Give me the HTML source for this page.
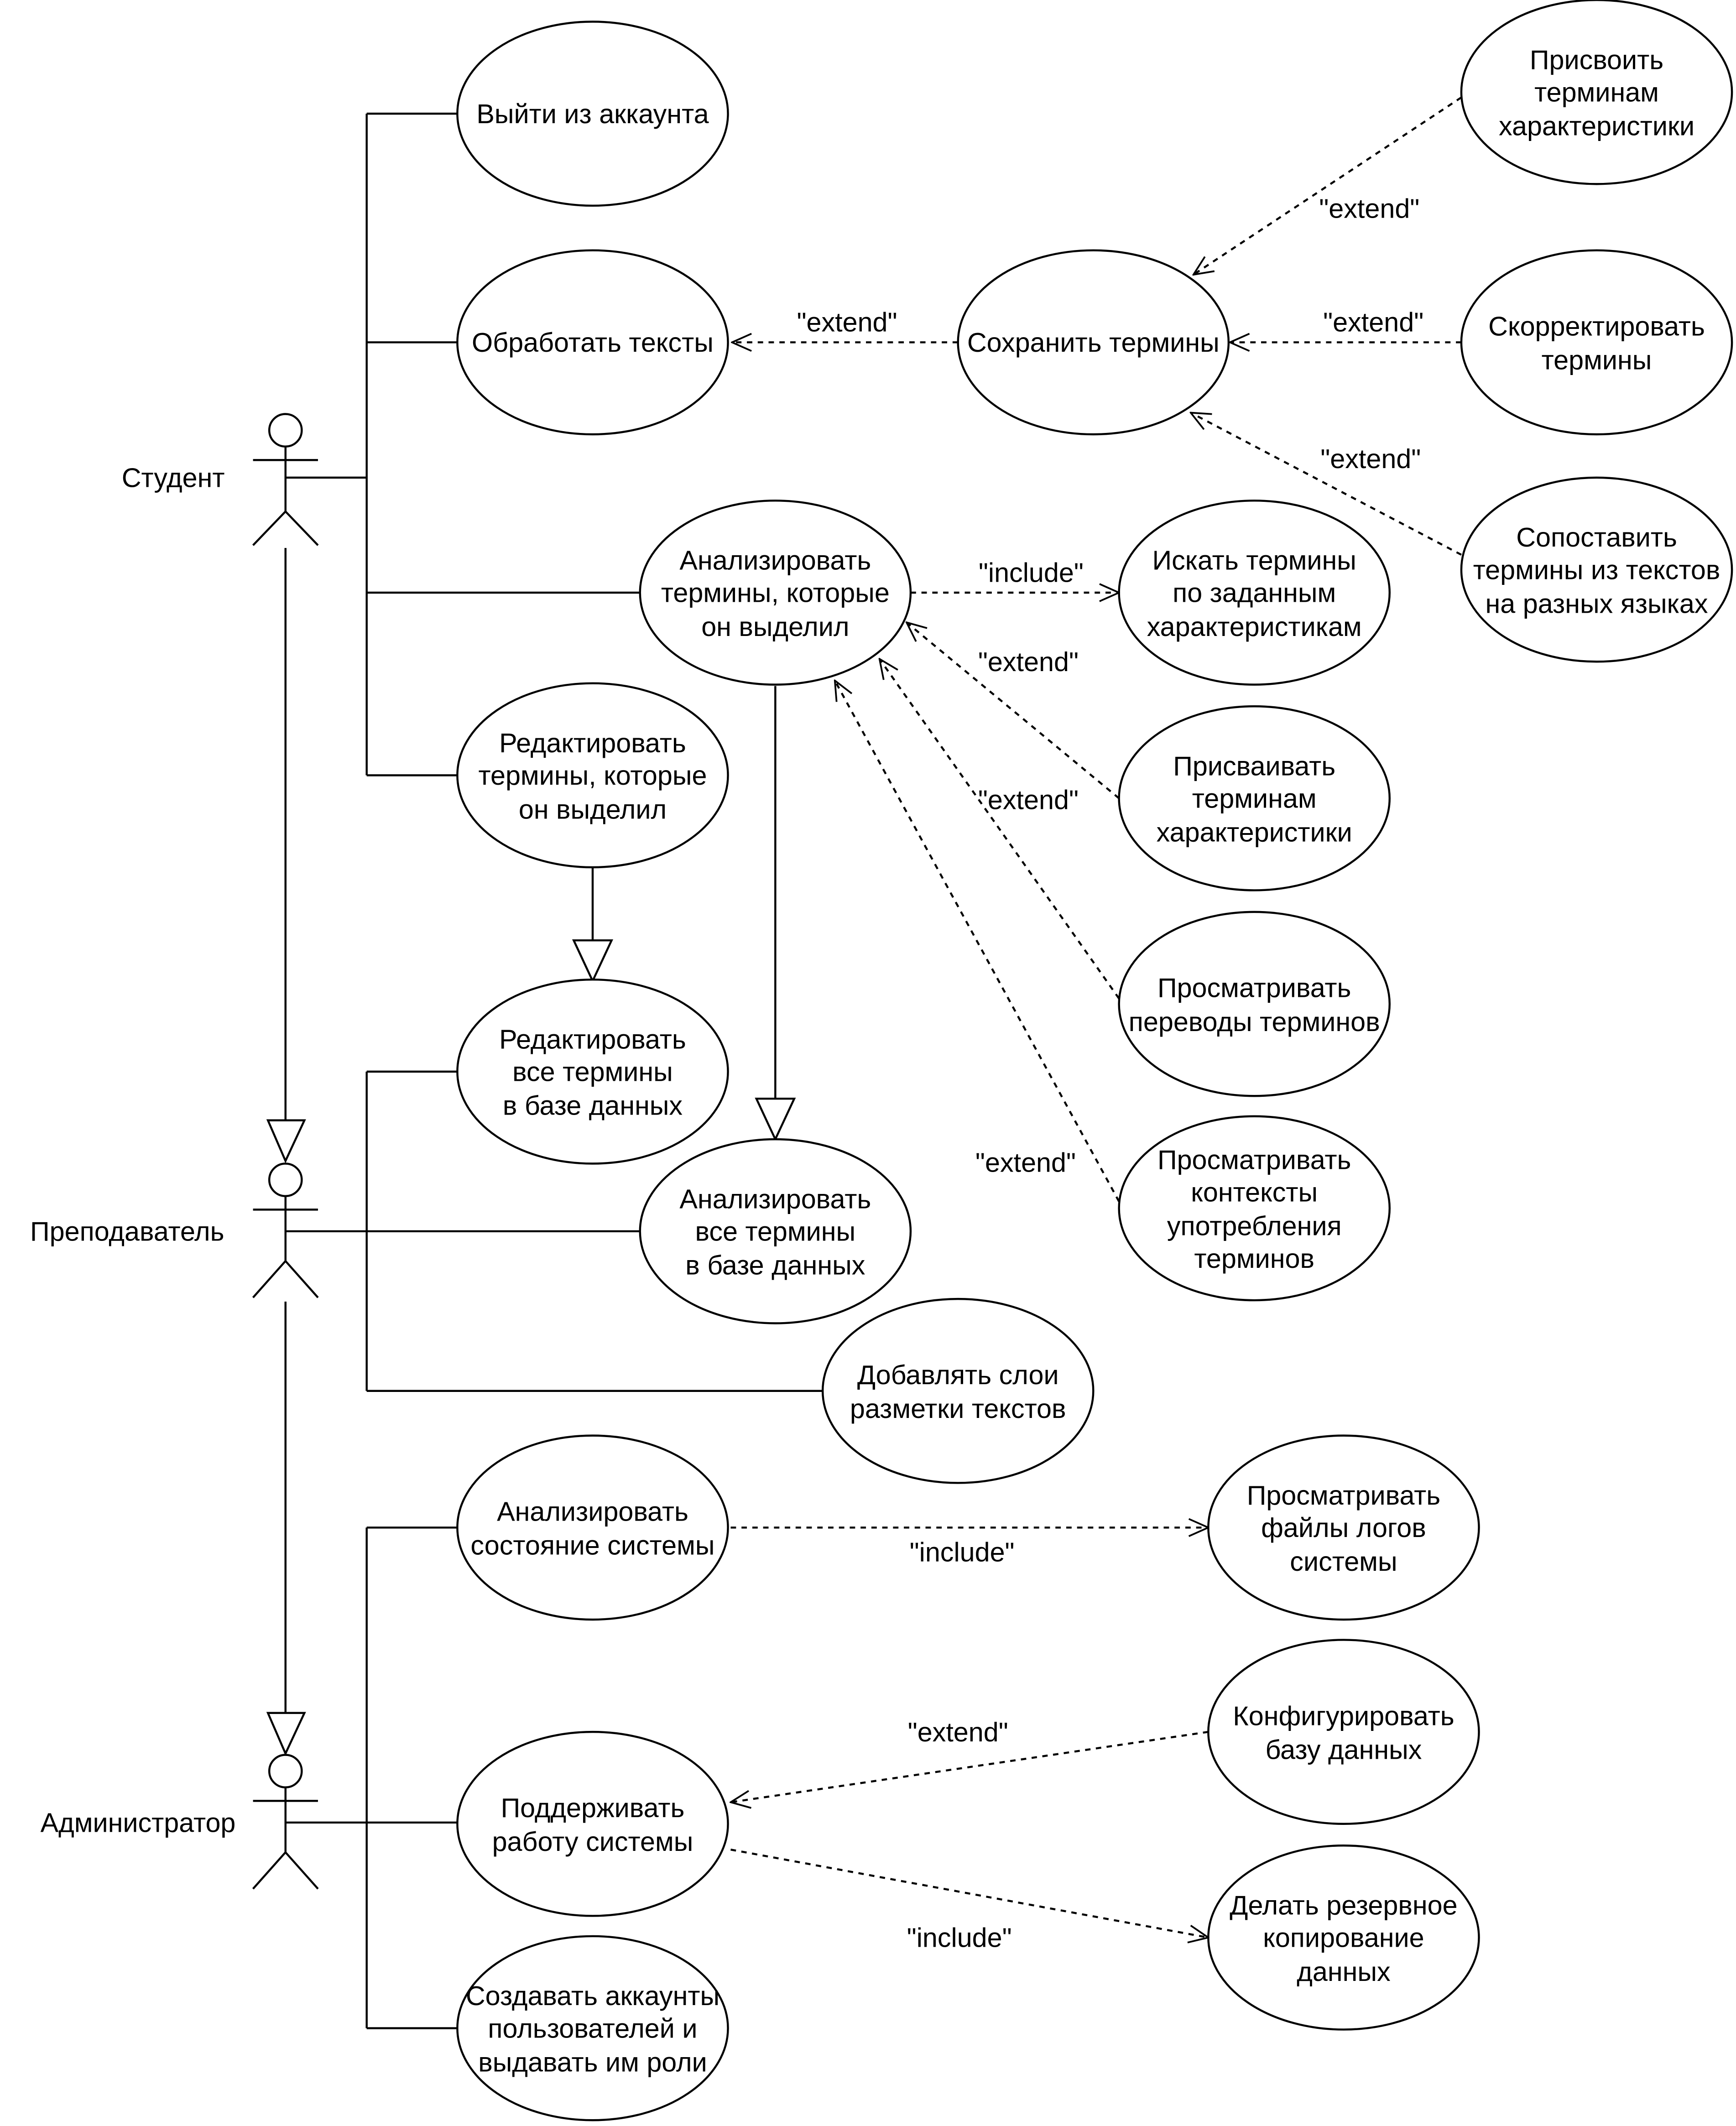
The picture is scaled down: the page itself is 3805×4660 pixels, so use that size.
<!DOCTYPE html>
<html><head><meta charset="utf-8"><style>html,body{margin:0;padding:0;background:#fff}</style></head>
<body>
<svg xmlns="http://www.w3.org/2000/svg" width="3805" height="4655" viewBox="0 0 1283 1569.6">
<defs>
<marker id="a" viewBox="0 0 20 20" refX="19" refY="10" markerWidth="16" markerHeight="16" markerUnits="userSpaceOnUse" orient="auto">
<path d="M1 2 L19 10 L1 18" fill="none" stroke="#000" stroke-width="1.6"/>
</marker>
</defs>
<rect width="1283" height="1570" fill="#fff"/>
<g fill="none" stroke="#000" stroke-width="1.5">
<path d="M211 353H271M271 84V573M271 84H338M271 253H338M271 438H473M271 573H338"/>
<path d="M211 910H473M271 792V1028M271 792H338M271 1028H608"/>
<path d="M211 1347H338M271 1129V1499M271 1129H338M271 1499H338"/>
<path d="M211 405V828M211 962V1266M438 641V695M573 507V812"/>
<path d="M198 828H225L211 858Z M198 1266H225L211 1296Z M424 695H452L438 725Z M559 812H587L573 842Z" fill="#fff"/>
<circle cx="211" cy="318" r="12"/><path d="M211 330V378M187 340H235M187 403L211 378L235 403"/>
<circle cx="211" cy="872" r="12"/><path d="M211 884V932M187 894H235M187 959L211 932L235 959"/>
<circle cx="211" cy="1309" r="12"/><path d="M211 1321V1369M187 1331H235M187 1396L211 1369L235 1396"/>
<g fill="#fff">
<ellipse cx="438" cy="84" rx="100" ry="68"/>
<ellipse cx="438" cy="253" rx="100" ry="68"/>
<ellipse cx="808" cy="253" rx="100" ry="68"/>
<ellipse cx="1180" cy="68" rx="100" ry="68"/>
<ellipse cx="1180" cy="253" rx="100" ry="68"/>
<ellipse cx="1180" cy="421" rx="100" ry="68"/>
<ellipse cx="573" cy="438" rx="100" ry="68"/>
<ellipse cx="927" cy="438" rx="100" ry="68"/>
<ellipse cx="927" cy="590" rx="100" ry="68"/>
<ellipse cx="927" cy="742" rx="100" ry="68"/>
<ellipse cx="927" cy="893" rx="100" ry="68"/>
<ellipse cx="438" cy="573" rx="100" ry="68"/>
<ellipse cx="438" cy="792" rx="100" ry="68"/>
<ellipse cx="573" cy="910" rx="100" ry="68"/>
<ellipse cx="708" cy="1028" rx="100" ry="68"/>
<ellipse cx="438" cy="1129" rx="100" ry="68"/>
<ellipse cx="993" cy="1129" rx="100" ry="68"/>
<ellipse cx="993" cy="1280" rx="100" ry="68"/>
<ellipse cx="438" cy="1348" rx="100" ry="68"/>
<ellipse cx="993" cy="1432" rx="100" ry="68"/>
<ellipse cx="438" cy="1499" rx="100" ry="68"/>
</g>
<g stroke-dasharray="4 4" marker-end="url(#a)">
<path d="M708 253H541"/>
<path d="M1080 72L882 203"/>
<path d="M1080 253H909"/>
<path d="M1080 410L880 305"/>
<path d="M673 438H827"/>
<path d="M827 590L670 460"/>
<path d="M827 738L650 487"/>
<path d="M827 888L617 503"/>
<path d="M540 1129H893"/>
<path d="M893 1280L540 1332"/>
<path d="M540 1367L893 1432"/>
</g>
</g>
<g font-family="Liberation Sans, sans-serif" font-size="20" text-anchor="middle" fill="#000">
<text x="128" y="360">Студент</text>
<text x="94" y="917">Преподаватель</text>
<text x="102" y="1354">Администратор</text>
<text x="438" y="91">Выйти из аккаунта</text>
<text x="438" y="260">Обработать тексты</text>
<text x="808" y="260">Сохранить термины</text>
<text x="1180" y="51">Присвоить</text><text x="1180" y="75">терминам</text><text x="1180" y="100">характеристики</text>
<text x="1180" y="248">Скорректировать</text><text x="1180" y="273">термины</text>
<text x="1180" y="404">Сопоставить</text><text x="1180" y="428">термины из текстов</text><text x="1180" y="453">на разных языках</text>
<text x="573" y="421">Анализировать</text><text x="573" y="445">термины, которые</text><text x="573" y="470">он выделил</text>
<text x="927" y="421">Искать термины</text><text x="927" y="445">по заданным</text><text x="927" y="470">характеристикам</text>
<text x="927" y="573">Присваивать</text><text x="927" y="597">терминам</text><text x="927" y="622">характеристики</text>
<text x="927" y="737">Просматривать</text><text x="927" y="762">переводы терминов</text>
<text x="927" y="864">Просматривать</text><text x="927" y="888">контексты</text><text x="927" y="913">употребления</text><text x="927" y="937">терминов</text>
<text x="438" y="556">Редактировать</text><text x="438" y="580">термины, которые</text><text x="438" y="605">он выделил</text>
<text x="438" y="775">Редактировать</text><text x="438" y="799">все термины</text><text x="438" y="824">в базе данных</text>
<text x="573" y="893">Анализировать</text><text x="573" y="917">все термины</text><text x="573" y="942">в базе данных</text>
<text x="708" y="1023">Добавлять слои</text><text x="708" y="1048">разметки текстов</text>
<text x="438" y="1124">Анализировать</text><text x="438" y="1149">состояние системы</text>
<text x="993" y="1112">Просматривать</text><text x="993" y="1136">файлы логов</text><text x="993" y="1161">системы</text>
<text x="993" y="1275">Конфигурировать</text><text x="993" y="1300">базу данных</text>
<text x="438" y="1343">Поддерживать</text><text x="438" y="1368">работу системы</text>
<text x="993" y="1415">Делать резервное</text><text x="993" y="1439">копирование</text><text x="993" y="1464">данных</text>
<text x="438" y="1482">Создавать аккаунты</text><text x="438" y="1506">пользователей и</text><text x="438" y="1531">выдавать им роли</text>
<text x="626" y="245">"extend"</text>
<text x="1012" y="161">"extend"</text>
<text x="1015" y="245">"extend"</text>
<text x="1013" y="346">"extend"</text>
<text x="762" y="430">"include"</text>
<text x="760" y="496">"extend"</text>
<text x="760" y="598">"extend"</text>
<text x="758" y="866">"extend"</text>
<text x="711" y="1154">"include"</text>
<text x="708" y="1287">"extend"</text>
<text x="709" y="1439">"include"</text>
</g>
</svg>
</body></html>
